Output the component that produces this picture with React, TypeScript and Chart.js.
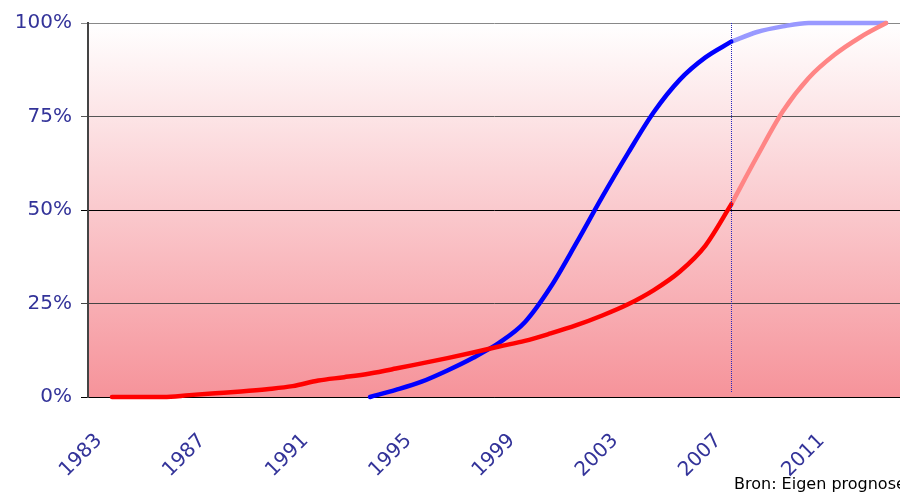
import { useEffect, useRef } from "react";
import { Chart, registerables } from "chart.js";

Chart.register(...registerables);

// Observed years (solid lines) and forecast years (pale lines)
const redYears = [
  1983, 1984, 1985, 1986, 1987, 1988, 1989, 1990, 1991, 1992, 1993, 1994, 1995,
  1996, 1997, 1998, 1999, 2000, 2001, 2002, 2003, 2004, 2005, 2006, 2007,
];
const redActual = [
  0, 0, 0, 0.5, 1.0, 1.5, 2.1, 2.9, 4.4, 5.3, 6.3, 7.6, 9.0, 10.4, 11.9, 13.5,
  15.0, 17.0, 19.2, 21.8, 24.8, 28.6, 33.5, 40.5, 51.5,
];

const blueYears = [
  1993, 1994, 1995, 1996, 1997, 1998, 1999, 2000, 2001, 2002, 2003, 2004, 2005,
  2006, 2007,
];
const blueActual = [
  0, 1.9, 4.1, 7.1, 10.5, 14.5, 20.0, 29.4, 41.2, 53.5, 65.2, 76.2, 84.8, 90.8,
  95.0,
];

const forecastYears = [2007, 2008, 2009, 2010, 2011, 2012, 2013];
const redForecast = [51.5, 64.3, 76.4, 85.3, 91.5, 96.2, 100];
const blueForecast = [95.0, 97.6, 99.1, 100, 100, 100, 100];

const xTickYears = [1983, 1987, 1991, 1995, 1999, 2003, 2007, 2011];
const yTickValues = [0, 25, 50, 75, 100];
const forecastStart = 2007;
const sourceNote = "Bron: Eigen prognose";

const FONT = "Verdana, 'DejaVu Sans', sans-serif";
const LABEL_COLOR = "#333399";

const toPoints = (xs: number[], ys: number[]) =>
  xs.map((x, i) => ({ x, y: ys[i] }));

const gridColorFor = (v: number) => {
  if (v === 0) return "#000000";
  if (v === 25) return "#444444";
  if (v === 50) return "#000000";
  if (v === 75) return "#555555";
  return "#888888";
};

// Pink-to-white gradient filling the plot area
const plotBackground = {
  id: "plotBackground",
  beforeDraw(chart: any) {
    const { ctx, chartArea } = chart;
    if (!chartArea) return;
    const g = ctx.createLinearGradient(0, chartArea.top, 0, chartArea.bottom);
    g.addColorStop(0, "#ffffff");
    g.addColorStop(0.5, "#fac9cd");
    g.addColorStop(1, "#f6939a");
    ctx.save();
    ctx.fillStyle = g;
    ctx.fillRect(
      chartArea.left,
      chartArea.top,
      chartArea.right - chartArea.left,
      chartArea.bottom - chartArea.top
    );
    ctx.restore();
  },
};

// Dotted vertical marker where the forecast begins
const forecastMarker = {
  id: "forecastMarker",
  afterDatasetsDraw(chart: any) {
    const { ctx, chartArea, scales } = chart;
    const x = Math.round(scales.x.getPixelForValue(forecastStart)) + 0.5;
    ctx.save();
    ctx.strokeStyle = "#2626c0";
    ctx.lineWidth = 1;
    ctx.setLineDash([1, 1]);
    ctx.beginPath();
    ctx.moveTo(x, chartArea.top);
    ctx.lineTo(x, chartArea.bottom - 5);
    ctx.stroke();
    ctx.restore();
  },
};

export default function App() {
  const canvasRef = useRef<HTMLCanvasElement | null>(null);

  useEffect(() => {
    const canvas = canvasRef.current;
    if (!canvas) return;

    const lineStyle = {
      pointRadius: 0,
      pointHoverRadius: 0,
      borderWidth: 4.5,
      borderCapStyle: "round" as const,
      borderJoinStyle: "round" as const,
      cubicInterpolationMode: "monotone" as const,
      fill: false,
      clip: false as const,
    };

    const chart = new Chart(canvas, {
      type: "line",
      data: {
        datasets: [
          {
            ...lineStyle,
            data: toPoints(redYears, redActual),
            borderColor: "#ff0000",
          },
          {
            ...lineStyle,
            data: toPoints(forecastYears, redForecast),
            borderColor: "#ff8585",
          },
          {
            ...lineStyle,
            data: toPoints(blueYears, blueActual),
            borderColor: "#0000ff",
          },
          {
            ...lineStyle,
            data: toPoints(forecastYears, blueForecast),
            borderColor: "#9999ff",
          },
        ],
      },
      options: {
        animation: false,
        responsive: false,
        devicePixelRatio: 1,
        events: [],
        layout: { padding: { top: 23, right: 0, bottom: 0, left: 0 } },
        plugins: {
          legend: { display: false },
          tooltip: { enabled: false },
          title: { display: false },
        },
        scales: {
          x: {
            type: "linear",
            min: 1982.07,
            max: 2013.54,
            afterBuildTicks(scale: any) {
              scale.ticks = xTickYears.map((v) => ({ value: v }));
            },
            afterFit(scale: any) {
              scale.height = 96;
              scale.paddingLeft = 0;
              scale.paddingRight = 0;
            },
            ticks: {
              autoSkip: false,
              minRotation: 45,
              maxRotation: 45,
              labelOffset: -13,
              padding: 32,
              color: LABEL_COLOR,
              font: { family: FONT, size: 20 },
              callback: (v: any) => String(v),
            },
            grid: { display: false, drawTicks: false, tickLength: 0 },
            border: { display: true, color: "#000000", width: 1 },
          },
          y: {
            min: 0,
            max: 100,
            afterBuildTicks(scale: any) {
              scale.ticks = yTickValues.map((v) => ({ value: v }));
            },
            afterFit(scale: any) {
              scale.width = 88;
            },
            ticks: {
              padding: 9,
              color: LABEL_COLOR,
              font: { family: FONT, size: 20 },
              callback: (v: any) => `${v}%`,
            },
            grid: {
              color: (ctx: any) => gridColorFor(ctx.tick ? ctx.tick.value : 0),
              lineWidth: 1,
              tickLength: 7,
            },
            border: { display: true, color: "#444444", width: 2 },
          },
        },
      },
      plugins: [plotBackground, forecastMarker],
    });

    return () => chart.destroy();
  }, []);

  return (
    <div
      style={{
        position: "absolute",
        left: 0,
        top: 0,
        width: 900,
        height: 493,
        overflow: "hidden",
        background: "#ffffff",
      }}
    >
      <canvas
        ref={canvasRef}
        width={900}
        height={493}
        style={{ display: "block", width: 900, height: 493 }}
      />
      <div
        style={{
          position: "absolute",
          left: 734,
          top: 474,
          fontFamily: FONT,
          fontSize: 16,
          color: "#000000",
          whiteSpace: "nowrap",
          lineHeight: "19px",
        }}
      >
        {sourceNote}
      </div>
    </div>
  );
}
